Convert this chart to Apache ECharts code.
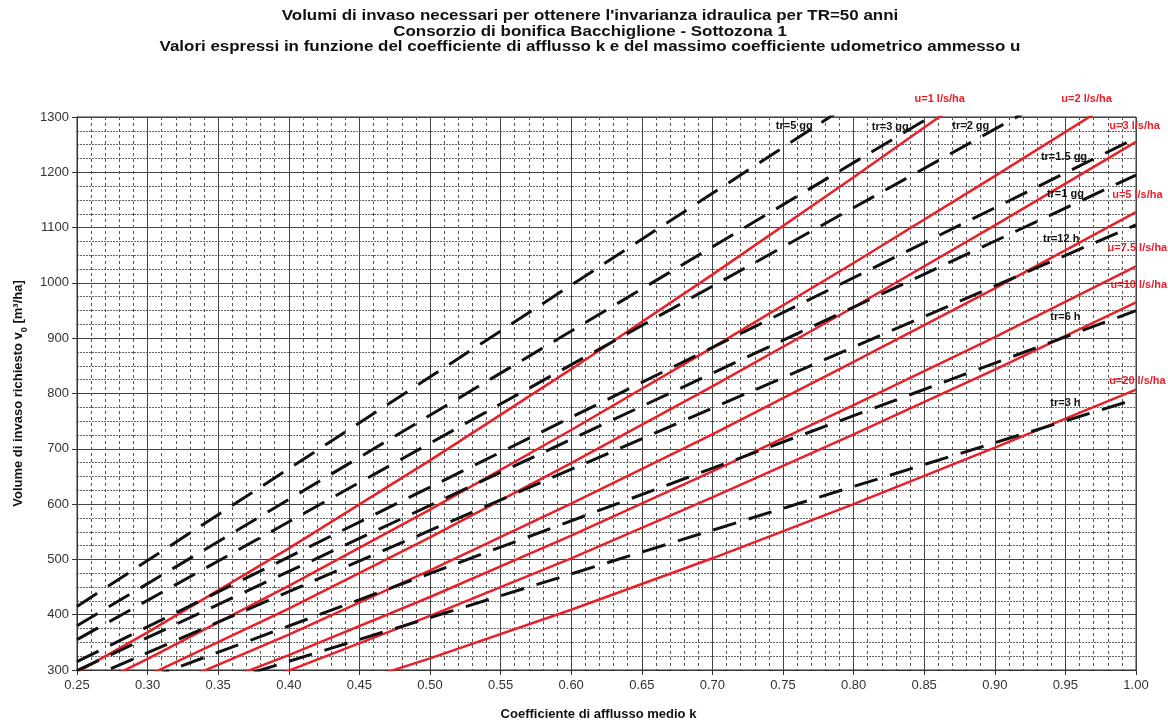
<!DOCTYPE html>
<html>
<head>
<meta charset="utf-8">
<script src="https://cdn.jsdelivr.net/npm/echarts@6/dist/echarts.min.js"></script>
<style>
html, body { margin: 0; padding: 0; background: #fff; }
#chart { width: 1168px; height: 722px; }
</style>
</head>
<body>
<div id="chart"></div>
<script>
// coefficiente di afflusso k (x) for the red curves, volumes in m3/ha
const kRed = [0.25, 0.30, 0.40, 0.50, 0.60, 0.70, 0.80, 0.90, 1.00];
const u1 = [296, 368, 520, 679, 844, 1015, 1191, 1371, 1555];
const u2 = [257, 320, 452, 590, 734, 883, 1036, 1193, 1353];
const u3 = [232, 290, 411, 540, 674, 813, 956, 1104, 1255];
const u5 = [204, 255, 364, 480, 601, 726, 857, 990, 1128];
const u75 = [181, 228, 327, 432, 543, 659, 779, 902, 1030];
const u10 = [164, 207, 299, 398, 502, 612, 726, 843, 965];
const u20 = [128, 163, 239, 321, 409, 502, 600, 702, 807];

// dashed lines (durata critica), straight
const kDash = [0.25, 1.00];
const tr5gg = [415, 1660];
const tr3gg = [380, 1522];
const tr2gg = [355, 1420];
const tr15gg = [315, 1262];
const tr1gg = [299, 1195];
const tr12h = [276, 1105];
const tr6h = [237, 950];
const tr3h = [197, 790];

const redNames = ['u=1', 'u=2', 'u=3', 'u=5', 'u=7.5', 'u=10', 'u=20'];
const redData = [u1, u2, u3, u5, u75, u10, u20];
const dashNames = ['tr=5 gg', 'tr=3 gg', 'tr=2 gg', 'tr=1.5 gg', 'tr=1 gg', 'tr=12 h', 'tr=6 h', 'tr=3 h'];
const dashData = [tr5gg, tr3gg, tr2gg, tr15gg, tr1gg, tr12h, tr6h, tr3h];

// labels on the curves
const labelText = ['u=1 l/s/ha', 'u=2 l/s/ha', 'u=3 l/s/ha', 'u=5 l/s/ha', 'u=7.5 l/s/ha', 'u=10 l/s/ha', 'u=20 l/s/ha',
  'tr=5 gg', 'tr=3 gg', 'tr=2 gg', 'tr=1.5 gg', 'tr=1 gg', 'tr=12 h', 'tr=6 h', 'tr=3 h'];
const labelK = [0.861, 0.965, 0.999, 1.001, 1.001, 1.002, 1.001,
  0.758, 0.826, 0.883, 0.949, 0.950, 0.947, 0.950, 0.950];
const labelV = [1333, 1333, 1284, 1159, 1064, 997, 822,
  1284, 1282, 1284, 1228, 1161, 1079, 939, 782];

const titleLines = [
  "Volumi di invaso necessari per ottenere l'invarianza idraulica per TR=50 anni",
  'Consorzio di bonifica Bacchiglione - Sottozona 1',
  'Valori espressi in funzione del coefficiente di afflusso k e del massimo coefficiente udometrico ammesso u'
];

const RED = '#e8202a';
const font = "'Liberation Sans', Arial, sans-serif";

const chart = echarts.init(document.getElementById('chart'));

const series = [];
redData.forEach(function (vals, i) {
  series.push({
    name: redNames[i],
    type: 'line',
    showSymbol: false,
    clip: true,
    silent: true,
    data: kRed.map(function (k, j) { return [k, vals[j]]; }),
    lineStyle: { color: RED, width: 2.5 }
  });
});
dashData.forEach(function (vals, i) {
  series.push({
    name: dashNames[i],
    type: 'line',
    showSymbol: false,
    clip: true,
    silent: true,
    data: kDash.map(function (k, j) { return [k, vals[j]]; }),
    lineStyle: { color: '#111', width: 3, type: [24, 13] }
  });
});

chart.setOption({
  animation: false,
  backgroundColor: '#fff',
  textStyle: { fontFamily: font },
  grid: {
    left: 77, right: 32, top: 117, bottom: 52,
    outerBoundsMode: 'none',
    containLabel: false,
    show: true, borderColor: '#333', borderWidth: 1
  },
  xAxis: {
    type: 'value',
    min: 0.25, max: 1.0, interval: 0.05,
    name: 'Coefficiente di afflusso medio k',
    nameLocation: 'middle',
    nameGap: 38,
    nameTextStyle: { fontFamily: font, fontSize: 13, fontWeight: 'bold', color: '#111', padding: [0, 16, 0, 0] },
    axisLine: { show: true, lineStyle: { color: '#333', width: 1 } },
    axisTick: { show: true, length: 5, lineStyle: { color: '#333' } },
    axisLabel: { fontFamily: font, fontSize: 13, color: '#333', margin: 9, formatter: function (v) { return v.toFixed(2); } },
    splitLine: { show: true, lineStyle: { color: '#444', width: 1 } },
    minorTick: { show: false, splitNumber: 5 },
    minorSplitLine: { show: true, lineStyle: { color: '#555', width: 1, type: [3, 3] } }
  },
  yAxis: {
    type: 'value',
    min: 300, max: 1300, interval: 100,
    name: 'Volume di invaso richiesto v{sub|0} [m³/ha]',
    nameLocation: 'middle',
    nameGap: 46,
    nameTextStyle: {
      fontFamily: font, fontSize: 13, fontWeight: 'bold', color: '#111',
      rich: { sub: { fontFamily: font, fontSize: 9, fontWeight: 'bold', color: '#111', verticalAlign: 'bottom', padding: [0, 0, -4, 0] } }
    },
    axisLine: { show: true, lineStyle: { color: '#333', width: 1 } },
    axisTick: { show: true, length: 5, lineStyle: { color: '#333' } },
    axisLabel: { fontFamily: font, fontSize: 13, color: '#333', margin: 8, formatter: function (v) { return String(v); } },
    splitLine: { show: true, lineStyle: { color: '#444', width: 1 } },
    minorTick: { show: false, splitNumber: 4 },
    minorSplitLine: { show: true, lineStyle: { color: '#666', width: 1, type: [2, 1] } }
  },
  series: series
});

// title lines (slightly wide lettering, as in the original) and curve labels
const graphics = titleLines.map(function (t, i) {
  return {
    type: 'text',
    x: 590, y: 16 + i * 15.5,
    scaleX: 1.13,
    silent: true,
    style: {
      text: t, fill: '#111',
      fontFamily: 'Arial, "Liberation Sans", sans-serif', fontSize: 15, fontWeight: 'bold',
      align: 'center', verticalAlign: 'middle'
    }
  };
});
labelText.forEach(function (t, i) {
  const p = chart.convertToPixel({ gridIndex: 0 }, [labelK[i], labelV[i]]);
  graphics.push({
    type: 'text',
    x: p[0], y: p[1],
    silent: true,
    z: 100,
    style: {
      text: t,
      fill: i < 7 ? RED : '#111',
      fontFamily: 'Arial, "Liberation Sans", sans-serif', fontSize: 11, fontWeight: 'bold',
      align: 'center',
      verticalAlign: 'middle'
    }
  });
});
chart.setOption({ graphic: graphics });
</script>
</body>
</html>
